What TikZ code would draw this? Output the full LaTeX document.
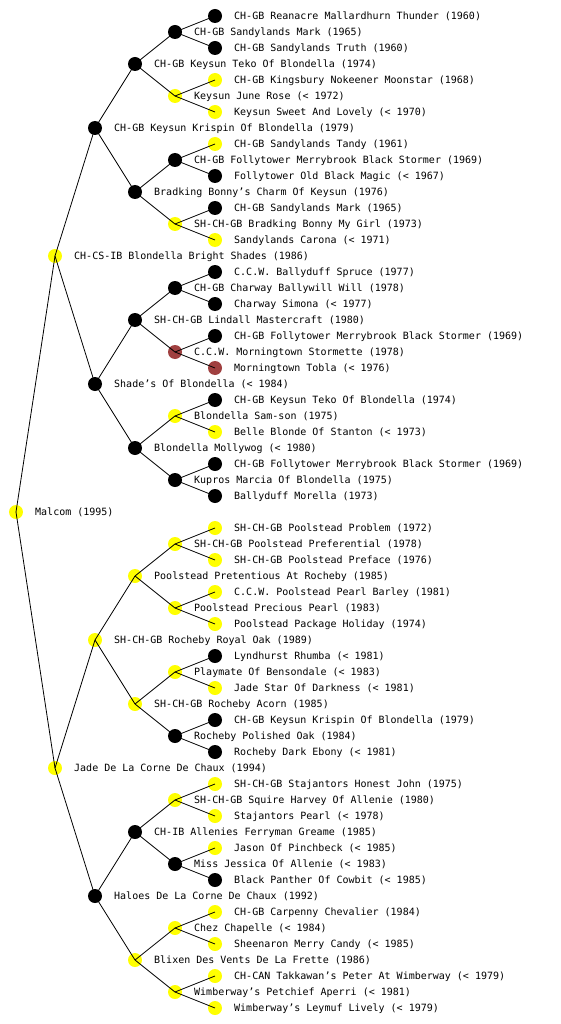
\documentclass[tikz,border=0pt]{standalone}
\usepackage{fontspec}
\newfontfamily\monof{DejaVu Sans Mono}
\definecolor{ny}{RGB}{255,255,0}
\definecolor{nk}{RGB}{0,0,0}
\definecolor{nb}{RGB}{160,64,64}
\tikzset{
  dot/.style={circle,minimum size=14pt,inner sep=0pt,draw=none},
  txt/.style={anchor=base west,inner sep=0pt,font=\monof\fontsize{10}{12}\selectfont,text=black},
  edge/.style={draw=black,line width=0.8pt}
}
\newcommand\pd[4]{%
  \node[dot,fill=#3] (n#1) at (#2,{16+16*#1}) {};
  \node[txt] (t#1) at ({#2+19},{16+16*#1+3.7}) {#4};}
\begin{document}
\begin{tikzpicture}[x=1pt,y=-1pt]
\fill[white] (0,0) rectangle (560,1024);
\useasboundingbox (0,0) rectangle (560,1024);
\pd{0}{215}{nk}{CH-GB Reanacre Mallardhurn Thunder (1960)}
\pd{1}{175}{nk}{CH-GB Sandylands Mark (1965)}
\pd{2}{215}{nk}{CH-GB Sandylands Truth (1960)}
\pd{3}{135}{nk}{CH-GB Keysun Teko Of Blondella (1974)}
\pd{4}{215}{ny}{CH-GB Kingsbury Nokeener Moonstar (1968)}
\pd{5}{175}{ny}{Keysun June Rose (< 1972)}
\pd{6}{215}{ny}{Keysun Sweet And Lovely (< 1970)}
\pd{7}{95}{nk}{CH-GB Keysun Krispin Of Blondella (1979)}
\pd{8}{215}{ny}{CH-GB Sandylands Tandy (1961)}
\pd{9}{175}{nk}{CH-GB Follytower Merrybrook Black Stormer (1969)}
\pd{10}{215}{nk}{Follytower Old Black Magic (< 1967)}
\pd{11}{135}{nk}{Bradking Bonny’s Charm Of Keysun (1976)}
\pd{12}{215}{nk}{CH-GB Sandylands Mark (1965)}
\pd{13}{175}{ny}{SH-CH-GB Bradking Bonny My Girl (1973)}
\pd{14}{215}{ny}{Sandylands Carona (< 1971)}
\pd{15}{55}{ny}{CH-CS-IB Blondella Bright Shades (1986)}
\pd{16}{215}{nk}{C.C.W. Ballyduff Spruce (1977)}
\pd{17}{175}{nk}{CH-GB Charway Ballywill Will (1978)}
\pd{18}{215}{nk}{Charway Simona (< 1977)}
\pd{19}{135}{nk}{SH-CH-GB Lindall Mastercraft (1980)}
\pd{20}{215}{nk}{CH-GB Follytower Merrybrook Black Stormer (1969)}
\pd{21}{175}{nb}{C.C.W. Morningtown Stormette (1978)}
\pd{22}{215}{nb}{Morningtown Tobla (< 1976)}
\pd{23}{95}{nk}{Shade’s Of Blondella (< 1984)}
\pd{24}{215}{nk}{CH-GB Keysun Teko Of Blondella (1974)}
\pd{25}{175}{ny}{Blondella Sam-son (1975)}
\pd{26}{215}{ny}{Belle Blonde Of Stanton (< 1973)}
\pd{27}{135}{nk}{Blondella Mollywog (< 1980)}
\pd{28}{215}{nk}{CH-GB Follytower Merrybrook Black Stormer (1969)}
\pd{29}{175}{nk}{Kupros Marcia Of Blondella (1975)}
\pd{30}{215}{nk}{Ballyduff Morella (1973)}
\pd{31}{16}{ny}{Malcom (1995)}
\pd{32}{215}{ny}{SH-CH-GB Poolstead Problem (1972)}
\pd{33}{175}{ny}{SH-CH-GB Poolstead Preferential (1978)}
\pd{34}{215}{ny}{SH-CH-GB Poolstead Preface (1976)}
\pd{35}{135}{ny}{Poolstead Pretentious At Rocheby (1985)}
\pd{36}{215}{ny}{C.C.W. Poolstead Pearl Barley (1981)}
\pd{37}{175}{ny}{Poolstead Precious Pearl (1983)}
\pd{38}{215}{ny}{Poolstead Package Holiday (1974)}
\pd{39}{95}{ny}{SH-CH-GB Rocheby Royal Oak (1989)}
\pd{40}{215}{nk}{Lyndhurst Rhumba (< 1981)}
\pd{41}{175}{ny}{Playmate Of Bensondale (< 1983)}
\pd{42}{215}{ny}{Jade Star Of Darkness (< 1981)}
\pd{43}{135}{ny}{SH-CH-GB Rocheby Acorn (1985)}
\pd{44}{215}{nk}{CH-GB Keysun Krispin Of Blondella (1979)}
\pd{45}{175}{nk}{Rocheby Polished Oak (1984)}
\pd{46}{215}{nk}{Rocheby Dark Ebony (< 1981)}
\pd{47}{55}{ny}{Jade De La Corne De Chaux (1994)}
\pd{48}{215}{ny}{SH-CH-GB Stajantors Honest John (1975)}
\pd{49}{175}{ny}{SH-CH-GB Squire Harvey Of Allenie (1980)}
\pd{50}{215}{ny}{Stajantors Pearl (< 1978)}
\pd{51}{135}{nk}{CH-IB Allenies Ferryman Greame (1985)}
\pd{52}{215}{ny}{Jason Of Pinchbeck (< 1985)}
\pd{53}{175}{nk}{Miss Jessica Of Allenie (< 1983)}
\pd{54}{215}{nk}{Black Panther Of Cowbit (< 1985)}
\pd{55}{95}{nk}{Haloes De La Corne De Chaux (1992)}
\pd{56}{215}{ny}{CH-GB Carpenny Chevalier (1984)}
\pd{57}{175}{ny}{Chez Chapelle (< 1984)}
\pd{58}{215}{ny}{Sheenaron Merry Candy (< 1985)}
\pd{59}{135}{ny}{Blixen Des Vents De La Frette (1986)}
\pd{60}{215}{ny}{CH-CAN Takkawan’s Peter At Wimberway (< 1979)}
\pd{61}{175}{ny}{Wimberway’s Petchief Aperri (< 1981)}
\pd{62}{215}{ny}{Wimberway’s Leymuf Lively (< 1979)}
\foreach \p/\a/\b in {1/0/2,5/4/6,9/8/10,13/12/14,17/16/18,21/20/22,25/24/26,29/28/30,
  33/32/34,37/36/38,41/40/42,45/44/46,49/48/50,53/52/54,57/56/58,61/60/62,
  3/1/5,11/9/13,19/17/21,27/25/29,35/33/37,43/41/45,51/49/53,59/57/61,
  7/3/11,23/19/27,39/35/43,55/51/59,15/7/23,47/39/55,31/15/47}{
  \draw[edge] (n\p.center) -- (n\a.center);
  \draw[edge] (n\p.center) -- (n\b.center);
}
\end{tikzpicture}
\end{document}
